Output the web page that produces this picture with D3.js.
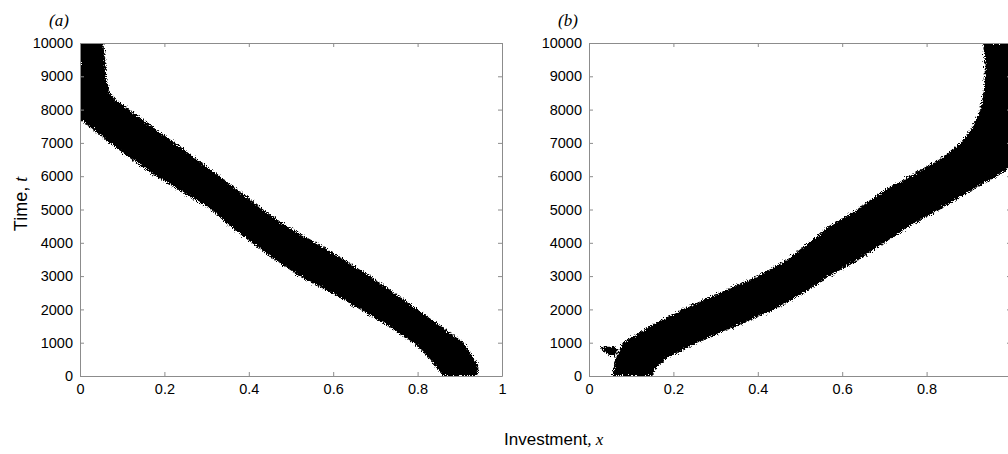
<!DOCTYPE html>
<html>
<head>
<meta charset="utf-8">
<script src="https://cdn.jsdelivr.net/npm/d3@7"></script>
<style>
  body { margin: 0; background: #fff; }
  svg { display: block; }
  .tick text { font-family: "Liberation Sans", Arial, sans-serif; font-size: 14.5px; fill: #000; }
  .domain, .tick line { stroke: #8c8c8c; }
</style>
</head>
<body>
<svg id="chart" width="1008" height="454"></svg>
<script>
// ticks
const xTicks = [0, 0.2, 0.4, 0.6, 0.8, 1];
const yTicks = [0, 1000, 2000, 3000, 4000, 5000, 6000, 7000, 8000, 9000, 10000];

// panel (a): band edges (investment) at each time
const timeA  = [10000, 9500, 9000, 8500, 8240, 8000, 7700, 7500, 7000, 6500, 6000, 5500, 5000, 4500, 4000, 3500, 3000, 2500, 2000, 1500, 1000, 500, 250, 0];
const leftA  = [0, 0, 0, 0, 0, 0, 0, 0.022, 0.07, 0.123, 0.18, 0.245, 0.31, 0.355, 0.407, 0.46, 0.52, 0.595, 0.664, 0.73, 0.79, 0.83, 0.845, 0.86];
const rightA = [0.055, 0.06, 0.062, 0.07, 0.09, 0.116, 0.148, 0.17, 0.225, 0.278, 0.33, 0.383, 0.434, 0.49, 0.56, 0.625, 0.687, 0.745, 0.80, 0.855, 0.91, 0.935, 0.945, 0.94];

// panel (b)
const timeB  = [0, 250, 500, 1000, 1500, 2000, 2500, 3000, 3500, 4000, 4500, 5000, 5500, 6000, 6300, 6500, 7000, 7500, 8000, 8500, 9000, 9500, 10000];
const leftB  = [0.055, 0.058, 0.062, 0.08, 0.145, 0.22, 0.31, 0.40, 0.47, 0.52, 0.57, 0.635, 0.69, 0.76, 0.80, 0.83, 0.88, 0.91, 0.927, 0.935, 0.938, 0.937, 0.934];
const rightB = [0.15, 0.16, 0.18, 0.256, 0.35, 0.44, 0.51, 0.57, 0.64, 0.70, 0.76, 0.832, 0.896, 0.967, 1, 1, 1, 1, 1, 1, 1, 1, 1];

// stray wisp of points left of the band in (b)
const wispTimeB  = [600, 700, 800, 880];
const wispLeftB  = [0.05, 0.04, 0.03, 0.028];
const wispRightB = [0.062, 0.066, 0.07, 0.06];

const svg = d3.select("#chart");
const plotTop = 43, plotBottom = 376;

//rough edge filter so the band looks like dense scattered points
const defs = svg.append("defs");
const f = defs.append("filter").attr("id", "rough").attr("x", "-5%").attr("y", "-5%").attr("width", "110%").attr("height", "110%");
f.append("feTurbulence").attr("type", "fractalNoise").attr("baseFrequency", 0.9).attr("numOctaves", 2).attr("seed", 3).attr("result", "noise");
f.append("feDisplacementMap").attr("in", "SourceGraphic").attr("in2", "noise").attr("scale", 7).attr("xChannelSelector", "R").attr("yChannelSelector", "G");

function drawPanel(id, left, label, times, x0s, x1s, xLabels) {
  const x = d3.scaleLinear().domain([0, 1]).range([left, left + 422]);
  const y = d3.scaleLinear().domain([0, 10000]).range([plotBottom, plotTop]);

  defs.append("clipPath").attr("id", "clip" + id)
    .append("rect").attr("x", left).attr("y", plotTop).attr("width", 422).attr("height", plotBottom - plotTop);

  const area = d3.area()
    .y(d => y(d.t))
    .x0(d => x(d.lo))
    .x1(d => x(d.hi));

  const clipG = svg.append("g").attr("clip-path", `url(#clip${id})`);
  const drawBand = (ts, los, his) => {
    clipG.append("path")
      .datum(ts.map((t, i) => ({ t: t, lo: los[i], hi: his[i] })))
      .attr("d", area)
      .attr("fill", "#000")
      .attr("filter", "url(#rough)");
  };
  drawBand(times, x0s, x1s);

  const g = svg.append("g");
  g.append("g").attr("transform", `translate(0,${plotBottom})`)
    .call(d3.axisBottom(x).tickValues(xTicks)
      .tickFormat(d => xLabels.includes(d) ? String(d) : "")
      .tickSizeInner(-4).tickSizeOuter(0).tickPadding(8));
  g.append("g").attr("transform", `translate(0,${plotTop})`)
    .call(d3.axisTop(x).tickValues(xTicks).tickFormat("").tickSizeInner(-4).tickSizeOuter(0));
  g.append("g").attr("transform", `translate(${left},0)`)
    .call(d3.axisLeft(y).tickValues(yTicks).tickFormat(d3.format("d")).tickSizeInner(-4).tickSizeOuter(0).tickPadding(7));
  g.append("g").attr("transform", `translate(${left + 422},0)`)
    .call(d3.axisRight(y).tickValues(yTicks).tickFormat("").tickSizeInner(-4).tickSizeOuter(0));

  svg.append("text")
    .attr("x", left - 21).attr("y", 26)
    .attr("text-anchor", "middle")
    .attr("font-family", "'Liberation Serif', 'Times New Roman', serif")
    .attr("font-style", "italic")
    .attr("font-size", "17px")
    .text(label);

  return drawBand;
}

drawPanel("a", 80, "(a)", timeA, leftA, rightA, xTicks);
const bandB = drawPanel("b", 589, "(b)", timeB, leftB, rightB, xTicks.slice(0, 5));
bandB(wispTimeB, wispLeftB, wispRightB);

// axis titles
const yl = svg.append("text")
  .attr("transform", "translate(27,204) rotate(-90)")
  .attr("text-anchor", "middle")
  .attr("font-family", "'Liberation Sans', Arial, sans-serif")
  .attr("font-size", "18px");
yl.append("tspan").text("Time, ");
yl.append("tspan").attr("font-family", "'Liberation Serif', serif").attr("font-style", "italic").text("t");

const xl = svg.append("text")
  .attr("x", 504).attr("y", 445)
  .attr("font-family", "'Liberation Sans', Arial, sans-serif")
  .attr("font-size", "17px");
xl.append("tspan").text("Investment");
xl.append("tspan").attr("font-family", "'Liberation Serif', serif").attr("font-style", "italic").text(", x");
</script>
</body>
</html>
